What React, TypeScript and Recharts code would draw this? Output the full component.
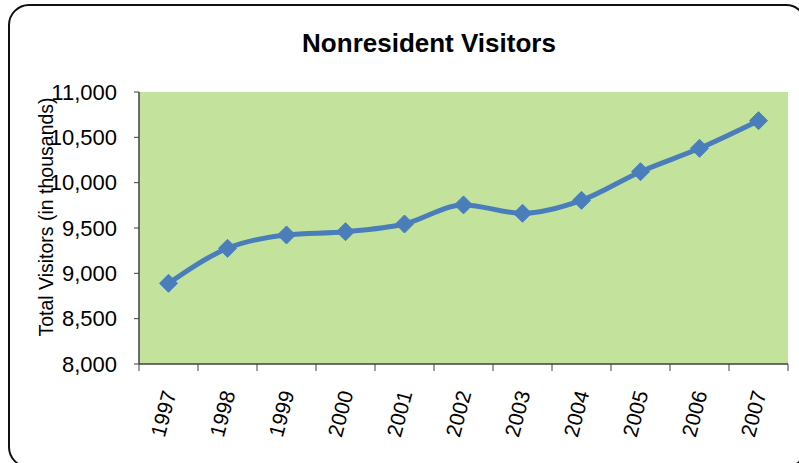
import React from 'react';
import { LineChart, Line, XAxis, YAxis, CartesianGrid } from 'recharts';

const years = ['1997', '1998', '1999', '2000', '2001', '2002', '2003', '2004', '2005', '2006', '2007'];
const visitors = [8890, 9276, 9423, 9459, 9544, 9755, 9662, 9805, 10121, 10379, 10684];
const yTicks = [8000, 8500, 9000, 9500, 10000, 10500, 11000];

const data = years.map((year, i) => ({ year, visitors: visitors[i] }));

const W = 799;
const H = 463;
const M = { top: 92, right: 11, left: 0, bottom: 0 };
const Y_AXIS_W = 139;
const X_AXIS_H = H - 364;
const HALF_BAND = (W - M.right - Y_AXIS_W) / years.length / 2;

const FONT = '"Liberation Sans", Arial, sans-serif';
const AXIS = '#404040';

const YearTick = (props: any) => {
  const { x, y, payload, index } = props;
  return (
    <g>
      <line x1={x - HALF_BAND} y1={y} x2={x - HALF_BAND} y2={y + 7} stroke={AXIS} strokeWidth={1} />
      {index === years.length - 1 && (
        <line x1={x + HALF_BAND} y1={y} x2={x + HALF_BAND} y2={y + 7} stroke={AXIS} strokeWidth={1} />
      )}
      <text
        x={x + 8}
        y={y + 29}
        textAnchor="end"
        fontSize={21}
        fontFamily={FONT}
        fill="#000"
        transform={`rotate(-75, ${x + 8}, ${y + 29})`}
      >
        {payload.value}
      </text>
    </g>
  );
};

const Diamond = (props: any) => {
  const { cx, cy } = props;
  if (cx == null || cy == null) return null;
  const r = 9;
  return (
    <polygon
      points={`${cx},${cy - r} ${cx + r},${cy} ${cx},${cy + r} ${cx - r},${cy}`}
      fill="#4a7ebb"
      stroke="#4a7ebb"
      strokeWidth={1}
      strokeLinejoin="round"
    />
  );
};

export default function App() {
  return (
    <div
      style={{
        position: 'absolute',
        left: 0,
        top: 0,
        width: W,
        height: H,
        overflow: 'hidden',
        background: '#fff',
        fontFamily: FONT,
      }}
    >
      <svg width={W} height={H} style={{ position: 'absolute', left: 0, top: 0 }}>
        <rect x={9} y={5} width={797} height={462} rx={20} ry={20} fill="none" stroke="#111" strokeWidth={2} />
      </svg>
      <div
        style={{
          position: 'absolute',
          left: 229,
          width: 400,
          top: 28,
          textAlign: 'center',
          fontSize: 26,
          fontWeight: 'bold',
          color: '#000',
        }}
      >
        Nonresident Visitors
      </div>
      <div
        style={{
          position: 'absolute',
          left: 46,
          top: 217,
          transform: 'translate(-50%, -50%) rotate(-90deg)',
          whiteSpace: 'nowrap',
          fontSize: 19.5,
          color: '#000',
        }}
      >
        Total Visitors (in thousands)
      </div>
      <div style={{ position: 'absolute', left: 0, top: 0 }}>
        <LineChart width={W} height={H} data={data} margin={M}>
          <CartesianGrid horizontal={false} vertical={false} fill="#c3e29c" />
          <XAxis
            dataKey="year"
            height={X_AXIS_H}
            padding={{ left: HALF_BAND, right: HALF_BAND }}
            tickLine={false}
            tickSize={0}
            tickMargin={0}
            axisLine={{ stroke: AXIS, strokeWidth: 1.5 }}
            tick={<YearTick />}
            interval={0}
          />
          <XAxis
            xAxisId="top"
            orientation="top"
            dataKey="year"
            height={0}
            tick={false}
            tickLine={false}
            axisLine={{ stroke: '#666', strokeWidth: 1 }}
          />
          <YAxis
            width={Y_AXIS_W}
            domain={[8000, 11000]}
            ticks={yTicks}
            tickFormatter={(v: number) => v.toLocaleString('en-US')}
            tickSize={5}
            tickMargin={17}
            tickLine={{ stroke: AXIS }}
            axisLine={{ stroke: AXIS, strokeWidth: 1.5 }}
            tick={{ fontSize: 22, fill: '#000', fontFamily: FONT }}
          />
          <YAxis
            yAxisId="right"
            orientation="right"
            width={0}
            mirror
            domain={[8000, 11000]}
            ticks={yTicks}
            tickSize={4}
            tick={() => <g />}
            tickLine={{ stroke: '#777' }}
            axisLine={{ stroke: '#666', strokeWidth: 1 }}
          />
          <Line
            type="monotone"
            dataKey="visitors"
            stroke="#4a7ebb"
            strokeWidth={5}
            dot={<Diamond />}
            activeDot={false}
            isAnimationActive={false}
          />
        </LineChart>
      </div>
    </div>
  );
}
